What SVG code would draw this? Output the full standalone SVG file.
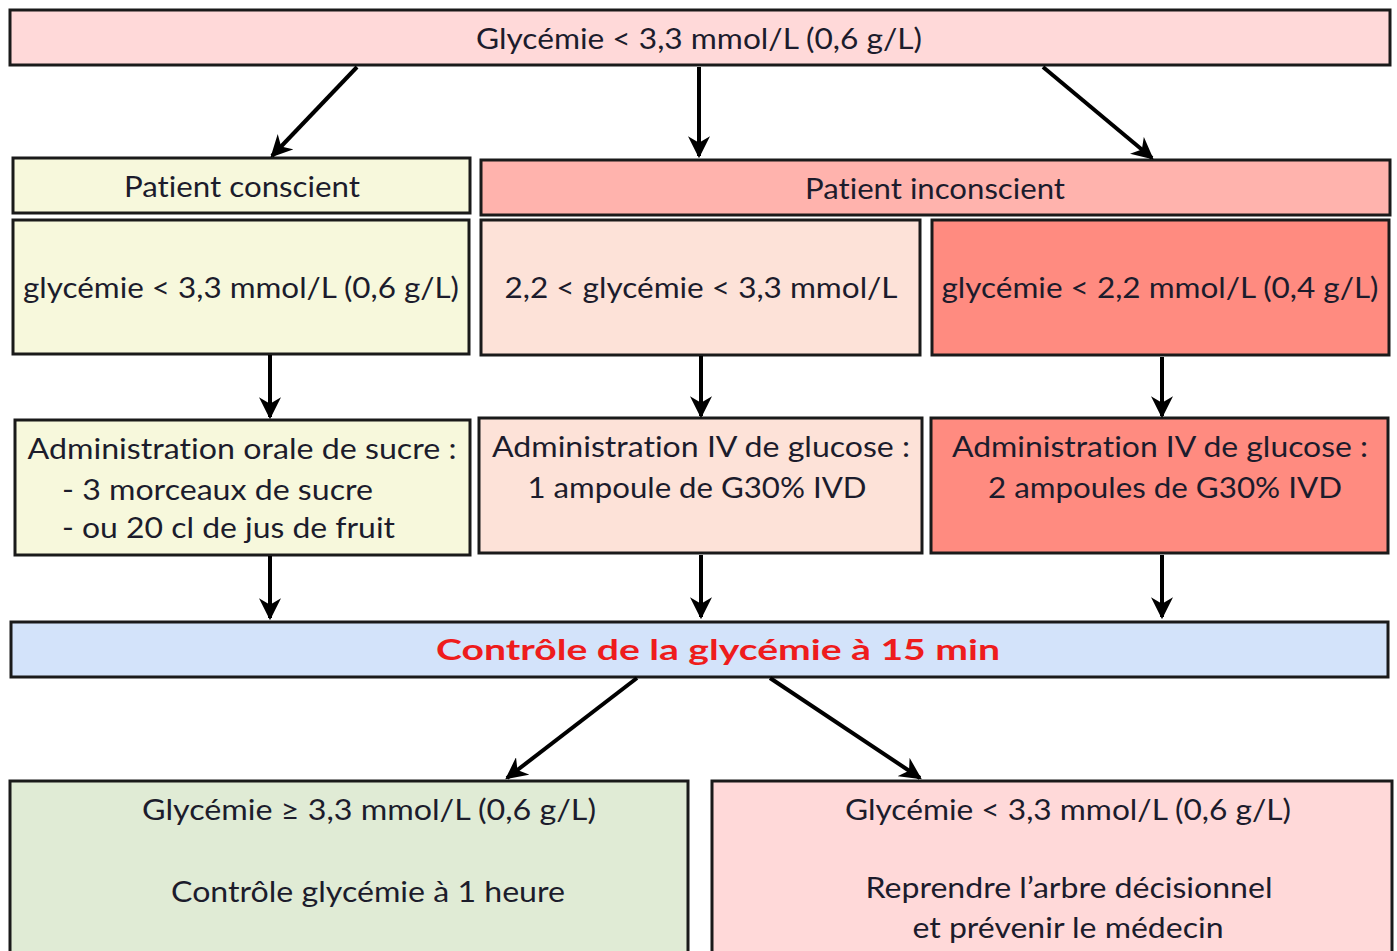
<svg xmlns="http://www.w3.org/2000/svg" width="1397" height="951" viewBox="0 0 1397 951">
<defs>
<marker id="ah" viewBox="0 0 10 10" refX="9" refY="5" markerWidth="5.5" markerHeight="5.5" orient="auto" markerUnits="strokeWidth">
<path d="M0,0 L10,5 L0,10 L3,5 z" fill="#000"/>
</marker>
<style>
rect{stroke:#1a1a1a;stroke-width:3}
text{font-family:Lato,"Open Sans","Liberation Sans",sans-serif;font-size:29px;fill:#1c1c2c;text-anchor:middle;font-variant-ligatures:none;font-feature-settings:"liga" 0,"dlig" 0,"clig" 0}
.c line{stroke:#000;stroke-width:4;marker-end:url(#ah)}
.red{fill:#ee1c1c;font-weight:bold}
</style>
</defs>
<rect x="0" y="0" width="1397" height="951" fill="#fff" style="stroke:none"/>
<g id="top"><rect x="10" y="10" width="1380" height="55" fill="#ffd9d9"/><text x="699" y="49" textLength="446" lengthAdjust="spacingAndGlyphs">Glycémie &lt; 3,3 mmol/L (0,6 g/L)</text></g>
<g id="conscient"><rect x="13" y="158" width="457" height="55" fill="#f7f8dc"/><text x="242" y="197" textLength="236" lengthAdjust="spacingAndGlyphs">Patient conscient</text></g>
<g id="inconscient"><rect x="481" y="160" width="909" height="55" fill="#ffb3ad"/><text x="935" y="199" textLength="260" lengthAdjust="spacingAndGlyphs">Patient inconscient</text></g>
<g id="c1"><rect x="13" y="220" width="456" height="134" fill="#f7f8dc"/><text x="241" y="298" textLength="436" lengthAdjust="spacingAndGlyphs">glycémie &lt; 3,3 mmol/L (0,6 g/L)</text></g>
<g id="c2"><rect x="481" y="220" width="439" height="135" fill="#fde2d8"/><text x="701" y="298" textLength="393" lengthAdjust="spacingAndGlyphs">2,2 &lt; glycémie &lt; 3,3 mmol/L</text></g>
<g id="c3"><rect x="932" y="220" width="457" height="135" fill="#ff8b80"/><text x="1160" y="298" textLength="437" lengthAdjust="spacingAndGlyphs">glycémie &lt; 2,2 mmol/L (0,4 g/L)</text></g>
<g id="a1"><rect x="15" y="420" width="455" height="135" fill="#f7f8dc"/>
<text x="242" y="459" textLength="429" lengthAdjust="spacingAndGlyphs">Administration orale de sucre :</text>
<text x="62" y="500" style="text-anchor:start" textLength="311" lengthAdjust="spacingAndGlyphs">- 3 morceaux de sucre</text>
<text x="62" y="538" style="text-anchor:start" textLength="333" lengthAdjust="spacingAndGlyphs">- ou 20 cl de jus de fruit</text></g>
<g id="a2"><rect x="479" y="418" width="443" height="135" fill="#fde2d8"/>
<text x="701" y="457" textLength="418" lengthAdjust="spacingAndGlyphs">Administration IV de glucose :</text>
<text x="697" y="498" textLength="339" lengthAdjust="spacingAndGlyphs">1 ampoule de G30% IVD</text></g>
<g id="a3"><rect x="931" y="418" width="457" height="135" fill="#ff8b80"/>
<text x="1160" y="457" textLength="416" lengthAdjust="spacingAndGlyphs">Administration IV de glucose :</text>
<text x="1165" y="498" textLength="354" lengthAdjust="spacingAndGlyphs">2 ampoules de G30% IVD</text></g>
<g id="ctrl"><rect x="11" y="622" width="1377" height="55" fill="#d3e3fa"/><text class="red" x="718" y="660" textLength="564" lengthAdjust="spacingAndGlyphs">Contrôle de la glycémie à 15 min</text></g>
<g id="ok"><rect x="10" y="781" width="678" height="185" fill="#e0ebd5"/>
<text x="369" y="820" textLength="454" lengthAdjust="spacingAndGlyphs">Glycémie ≥ 3,3 mmol/L (0,6 g/L)</text>
<text x="368" y="902" textLength="394" lengthAdjust="spacingAndGlyphs">Contrôle glycémie à 1 heure</text></g>
<g id="ko"><rect x="712" y="781" width="680" height="185" fill="#ffd9d9"/>
<text x="1068" y="820" textLength="446" lengthAdjust="spacingAndGlyphs">Glycémie &lt; 3,3 mmol/L (0,6 g/L)</text>
<text x="1069" y="898" textLength="407" lengthAdjust="spacingAndGlyphs">Reprendre l’arbre décisionnel</text>
<text x="1068" y="938" textLength="311" lengthAdjust="spacingAndGlyphs">et prévenir le médecin</text></g>
<g class="c" id="connectors">
<line x1="357" y1="67" x2="272" y2="156"/>
<line x1="699" y1="67" x2="699" y2="156"/>
<line x1="1043" y1="67" x2="1152" y2="158"/>
<line x1="270" y1="355" x2="270" y2="417"/>
<line x1="701" y1="356" x2="701" y2="416"/>
<line x1="1162" y1="357" x2="1162" y2="416"/>
<line x1="270" y1="556" x2="270" y2="618"/>
<line x1="701" y1="555" x2="701" y2="617"/>
<line x1="1162" y1="555" x2="1162" y2="617"/>
<line x1="637" y1="678" x2="507" y2="778"/>
<line x1="770" y1="678" x2="920" y2="778"/>
</g>
</svg>
